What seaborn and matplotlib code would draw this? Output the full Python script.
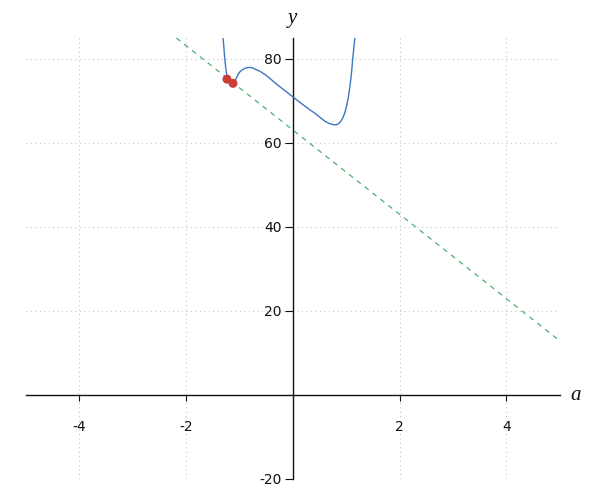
import matplotlib
matplotlib.use("Agg")
import matplotlib.pyplot as plt
import seaborn as sns
import pandas as pd

# Curve values
curve_x = [-1.307, -1.290, -1.275, -1.260, -1.247, -1.232, -1.21, -1.19, -1.165, -1.144,
           -1.12, -1.097, -1.075, -1.056, -1.025, -0.994, -0.95, -0.9, -0.85, -0.806,
           -0.76, -0.726, -0.68, -0.619, -0.52, -0.431, -0.34, -0.244, -0.12, 0.0,
           0.12, 0.225, 0.32, 0.4125, 0.5, 0.6, 0.69, 0.7875, 0.85, 0.9, 0.94,
           0.975, 1.005, 1.037, 1.062, 1.0875, 1.105, 1.122, 1.142, 1.1625]
curve_y = [85.1, 82.7, 80.2, 78.4, 77.1, 75.8, 74.8, 74.3, 74.05, 74.0,
           74.1, 74.4, 74.9, 75.5, 76.3, 76.9, 77.4, 77.75, 77.95, 78.0,
           77.9, 77.7, 77.45, 77.1, 76.3, 75.4, 74.4, 73.4, 72.2, 71.0,
           69.8, 68.8, 67.9, 67.1, 66.2, 65.2, 64.6, 64.3, 64.5, 65.2, 66.1,
           67.2, 68.7, 70.6, 72.8, 75.3, 77.5, 80.0, 82.6, 85.1]

# Dashed line end points
line_x = [-2.18, 5.0]
line_y = [85.0, 12.9]

# Red points
pts_x = [-1.232, -1.12]
pts_y = [75.2, 74.2]

x_ticks = [-4, -2, 2, 4]
y_ticks = [-20, 20, 40, 60, 80]

sns.set_theme(style="white")
plt.rcParams['font.family'] = ['DejaVu Sans']
plt.rcParams['axes.unicode_minus'] = False

fig = plt.figure(figsize=(6, 5), dpi=100)
ax = fig.add_axes([0.043, 0.042, 0.890, 0.882])

curve_df = pd.DataFrame({"x": curve_x, "y": curve_y})
line_df = pd.DataFrame({"x": line_x, "y": line_y})
pts_df = pd.DataFrame({"x": pts_x, "y": pts_y})

sns.lineplot(data=line_df, x="x", y="y", ax=ax, color="#4caf6e", linewidth=0.9,
             linestyle=(0, (4, 4)), sort=False, zorder=3)
sns.lineplot(data=curve_df, x="x", y="y", ax=ax, color="#3a78c2", linewidth=1.0,
             sort=False, zorder=4)
sns.scatterplot(data=pts_df, x="x", y="y", ax=ax, color="#cc3d36", s=42,
                edgecolor="none", zorder=5)

ax.set_xlim(-5, 5)
ax.set_ylim(-20, 85)
ax.set_xticks(x_ticks)
ax.set_yticks(y_ticks)
ax.set_xticklabels([str(t) for t in x_ticks])
ax.set_yticklabels([str(t) for t in y_ticks])

ax.grid(True, color="#c4c4c4", linestyle=(0, (1, 3)), linewidth=0.8)
ax.set_axisbelow(True)

for s in ["top", "right"]:
    ax.spines[s].set_visible(False)
ax.spines["left"].set_position(("data", 0))
ax.spines["bottom"].set_position(("data", 0))
ax.spines["left"].set_color("#111111")
ax.spines["bottom"].set_color("#111111")
ax.spines["left"].set_linewidth(1.0)
ax.spines["bottom"].set_linewidth(1.0)

ax.tick_params(axis="x", direction="out", length=4, width=0.8, pad=14,
               labelsize=10, colors="#111111", bottom=True)
ax.tick_params(axis="y", direction="out", length=6, width=0.8, pad=2,
               labelsize=10, colors="#111111", left=True)

ax.set_xlabel("")
ax.set_ylabel("")
ax.text(5.2, 0, "a", fontsize=15, style="italic", family="Liberation Serif",
        ha="left", va="center", color="#111111")
ax.text(0, 87.5, "y", fontsize=15, style="italic", family="Liberation Serif",
        ha="center", va="bottom", color="#111111", clip_on=False)

fig.savefig("out.png", dpi=100)
